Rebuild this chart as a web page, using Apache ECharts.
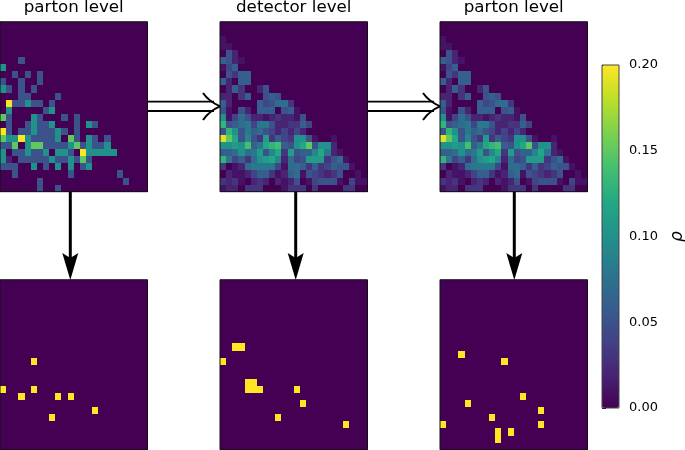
<!DOCTYPE html>
<html><head><meta charset="utf-8">
<style>html,body{margin:0;padding:0;background:#fff}#c{width:685px;height:450px}</style>
<script src="https://cdn.jsdelivr.net/npm/echarts@6/dist/echarts.min.js"></script>
</head><body><div id="c"></div>
<script>
// Cells are [column, row from top, rho]
const T=0.05,B=0.1,G=0.15,Y=0.2;
const partonTop=[
[3,5,T],[0,6,B],[2,7,T],[4,7,T],[6,7,T],[0,8,T],[3,8,T],[6,8,T],[0,9,B],[1,9,T],[3,9,T],[5,9,T],
[3,10,T],[4,10,T],[9,10,T],[1,11,Y],[2,11,T],[3,11,T],[4,11,B],[5,11,T],[6,11,T],[8,11,T],
[1,12,B],[7,12,T],[8,12,B],[0,13,G],[1,13,T],[5,13,B],[6,13,T],[10,13,T],[12,13,T],
[1,14,T],[4,14,T],[5,14,B],[6,14,T],[7,14,T],[8,14,B],[12,14,T],[14,14,B],[15,14,T],
[0,15,Y],[1,15,T],[3,15,T],[4,15,T],[5,15,B],[6,15,T],[7,15,T],[8,15,T],[9,15,B],[10,15,T],[12,15,T],
[0,16,G],[1,16,B],[2,16,B],[3,16,Y],[4,16,B],[5,16,T],[6,16,T],[7,16,T],[8,16,T],[9,16,B],[11,16,G],[12,16,T],[14,16,B],[15,16,T],[17,16,T],
[0,17,T],[1,17,T],[2,17,G],[4,17,B],[5,17,G],[6,17,G],[7,17,T],[8,17,T],[9,17,T],[10,17,T],[11,17,B],[12,17,G],[13,17,T],[14,17,B],[15,17,T],[16,17,T],[17,17,B],
[0,18,B],[2,18,T],[3,18,T],[4,18,B],[5,18,T],[6,18,T],[7,18,B],[9,18,B],[10,18,B],[11,18,T],[13,18,Y],[14,18,B],[15,18,B],[16,18,B],[17,18,B],[18,18,B],
[0,19,B],[1,19,0.02],[3,19,T],[4,19,T],[5,19,T],[6,19,T],[7,19,T],[8,19,B],[9,19,T],[10,19,T],[11,19,B],[12,19,T],[13,19,G],[14,19,T],
[0,20,T],[1,20,T],[2,20,T],[5,20,B],[7,20,T],[9,20,B],[11,20,B],[13,20,T],[14,20,B],
[2,21,T],[11,21,T],[19,21,T],[6,22,T],[20,22,T],[6,23,T],[9,23,T]];
const detectorTopPct=[
[0,0,0,0,0,0,0,0,0,0,0,0,0,0,0,0,0,0,0,0,0,0,0,0],
[0,0,0,0,0,0,0,0,0,0,0,0,0,0,0,0,0,0,0,0,0,0,0,0],
[1,0,0,0,0,0,0,0,0,0,0,0,0,0,0,0,0,0,0,0,0,0,0,0],
[1,1,0,0,0,0,0,0,0,0,0,0,0,0,0,0,0,0,0,0,0,0,0,0],
[0,5,2,0,0,0,0,0,0,0,0,0,0,0,0,0,0,0,0,0,0,0,0,0],
[6,5,2,1,0,0,0,0,0,0,0,0,0,0,0,0,0,0,0,0,0,0,0,0],
[1,4,6,0,0,0,0,0,0,0,0,0,0,0,0,0,0,0,0,0,0,0,0,0],
[0,5,3,6,6,0,0,0,0,0,0,0,0,0,0,0,0,0,0,0,0,0,0,0],
[6,2,0,6,6,0,0,0,0,0,0,0,0,0,0,0,0,0,0,0,0,0,0,0],
[0,2,6,3,0,0,2,5,0,0,0,0,0,0,0,0,0,0,0,0,0,0,0,0],
[2,2,0,3,6,0,0,5,6,5,0,0,0,0,0,0,0,0,0,0,0,0,0,0],
[6,2,0,0,0,0,6,4,5,7,7,3,0,0,0,0,0,0,0,0,0,0,0,0],
[5,1,0,5,2,0,6,6,6,0,5,6,1,0,0,0,0,0,0,0,0,0,0,0],
[10,1,4,7,5,2,2,1,2,3,2,2,1,5,0,0,0,0,0,0,0,0,0,0],
[13,5,6,7,8,4,8,8,5,2,2,3,3,6,4,0,0,0,0,0,0,0,0,0],
[5,13,10,5,8,6,7,5,4,2,4,2,4,2,0,0,0,0,0,0,0,0,0,0],
[19,15,12,5,9,5,3,11,3,6,4,3,10,10,5,1,0,0,1,0,0,0,0,0],
[10,10,11,10,14,6,8,12,13,14,6,5,10,12,15,5,10,10,2,0,0,0,0,0],
[6,6,7,10,7,8,11,5,9,12,3,11,5,6,6,9,12,8,2,1,0,0,0,0],
[13,8,4,6,3,7,10,11,12,9,2,7,4,5,11,11,11,3,5,7,1,0,0,0],
[3,0,1,2,7,8,8,8,8,4,1,7,7,6,3,6,3,4,6,5,5,1,0,0],
[0,2,1,1,2,4,6,6,3,1,2,6,7,1,5,4,3,2,3,5,0,0,1,0],
[3,2,3,1,0,2,3,2,0,2,1,2,5,0,1,4,5,5,5,1,0,4,1,1],
[1,2,2,0,3,3,3,0,0,0,1,3,3,3,0,3,0,0,0,0,3,3,0,0]];
const unfoldedTopPct=[
[0,0,0,0,0,0,0,0,0,0,0,0,0,0,0,0,0,0,0,0,0,0,0,0],
[0,0,0,0,0,0,0,0,0,0,0,0,0,0,0,0,0,0,0,0,0,0,0,0],
[1,0,0,0,0,0,0,0,0,0,0,0,0,0,0,0,0,0,0,0,0,0,0,0],
[1,1,0,0,0,0,0,0,0,0,0,0,0,0,0,0,0,0,0,0,0,0,0,0],
[0,5,2,0,0,0,0,0,0,0,0,0,0,0,0,0,0,0,0,0,0,0,0,0],
[6,5,2,1,0,0,0,0,0,0,0,0,0,0,0,0,0,0,0,0,0,0,0,0],
[1,4,6,0,0,0,0,0,0,0,0,0,0,0,0,0,0,0,0,0,0,0,0,0],
[0,5,3,6,6,0,0,0,0,0,0,0,0,0,0,0,0,0,0,0,0,0,0,0],
[6,2,0,6,6,0,0,0,0,0,0,0,0,0,0,0,0,0,0,0,0,0,0,0],
[0,2,6,3,0,0,2,5,0,0,0,0,0,0,0,0,0,0,0,0,0,0,0,0],
[2,2,0,3,6,0,0,5,6,5,0,0,0,0,0,0,0,0,0,0,0,0,0,0],
[6,2,0,0,0,0,6,4,5,7,7,3,0,0,0,0,0,0,0,0,0,0,0,0],
[5,1,0,5,2,0,6,6,6,0,5,6,1,0,0,0,0,0,0,0,0,0,0,0],
[10,1,4,7,5,2,2,1,2,3,2,2,1,5,0,0,0,0,0,0,0,0,0,0],
[13,5,6,7,8,4,8,8,5,2,2,3,3,6,4,0,0,0,0,0,0,0,0,0],
[5,13,10,5,8,6,7,5,4,2,4,2,4,2,0,0,0,0,0,0,0,0,0,0],
[19,15,12,5,9,5,3,11,3,6,4,3,10,10,5,1,0,0,1,0,0,0,0,0],
[10,10,11,10,14,6,8,12,13,14,6,5,10,12,15,5,10,10,2,0,0,0,0,0],
[6,6,7,10,7,8,11,5,9,12,3,11,5,6,6,9,12,8,2,1,0,0,0,0],
[13,8,4,6,3,7,10,11,12,9,2,7,4,5,11,11,11,3,5,7,1,0,0,0],
[3,0,1,2,7,8,8,8,8,4,1,7,7,6,3,6,3,4,6,5,5,1,0,0],
[0,2,1,1,2,4,6,6,3,1,2,6,7,1,5,4,3,2,3,5,0,0,1,0],
[3,2,3,1,0,2,3,2,0,2,1,2,5,0,1,4,5,5,5,1,0,4,1,1],
[1,2,2,0,3,3,3,0,0,0,1,3,3,3,0,3,0,0,0,0,3,3,0,0]];
const partonBottom=[[5,11],[0,15],[5,15],[3,16],[9,16],[11,16],[15,18],[8,19]];
const detectorBottom=[[2,9],[3,9],[0,11],[4,14],[5,14],[4,15],[5,15],[6,15],[12,15],[13,17],[9,19],[20,20]];
const unfoldedBottom=[[3,10],[10,11],[13,16],[4,17],[16,18],[8,19],[0,20],[16,20],[9,21],[11,21],[9,22]];
const titles=['parton level','detector level','parton level'];
const ticks=[0,0.05,0.1,0.15,0.2];
const viridis=['#440154','#482475','#414487','#355f8d','#2a788e','#21918c','#22a884','#44bf70','#7ad151','#bddf26','#fde725'];

const N=24, cols=[...Array(N).keys()];
const fromTriples=t=>{const m=new Map(t.map(c=>[c[0]+'_'+c[1],c[2]]));const o=[];
  for(let r=0;r<N;r++)for(let c=0;c<N;c++)o.push([c,r,m.get(c+'_'+r)||0]);return o;};
const fromMatrix=M=>M.flatMap((row,r)=>row.map((v,c)=>[c,r,v/100]));
const fromPairs=p=>fromTriples(p.map(c=>[c[0],c[1],Y]));
const panels=[fromTriples(partonTop),fromMatrix(detectorTopPct),fromMatrix(unfoldedTopPct),
  fromPairs(partonBottom),fromPairs(detectorBottom),fromPairs(unfoldedBottom)];
const L=[0,220,440], W=147.5, H=170, TOPS=[21.7,279.7];
const grids=[],xs=[],ys=[],series=[],g=[];
const frame=(x,y,w,h,c)=>g.push({type:'rect',z:40,shape:{x,y,width:w,height:h},style:{fill:null,stroke:c,lineWidth:1}});
const cell=(p,api)=>{
  const c=api.coord([api.value(0),api.value(1)]), s=api.size([1,1]);
  const x0=Math.round(c[0]-s[0]/2),x1=Math.round(c[0]+s[0]/2),y0=Math.round(c[1]-s[1]/2),y1=Math.round(c[1]+s[1]/2);
  return {type:'rect',shape:{x:x0,y:y0,width:x1-x0,height:y1-y0},style:{fill:api.visual('color')}};
};
panels.forEach((d,i)=>{
  const left=L[i%3], top=TOPS[i<3?0:1];
  grids.push({left,top,width:W,height:H,outerBoundsMode:'none'});
  xs.push({type:'category',data:cols,gridIndex:i,show:false});
  ys.push({type:'category',data:cols,gridIndex:i,show:false,inverse:true});
  series.push({type:'custom',renderItem:cell,xAxisIndex:i,yAxisIndex:i,data:d,encode:{x:0,y:1},silent:true});
  frame(left,top,W,H,'#111');
});
grids.push({left:602,top:65,width:17,height:343,outerBoundsMode:'none'});
xs.push({type:'value',gridIndex:6,show:false,min:0,max:1});
ys.push({type:'value',gridIndex:6,min:0,max:0.2,interval:0.05,position:'right',
  axisLine:{show:false},axisTick:{show:true,length:4,lineStyle:{color:'#000',width:1}},
  splitLine:{show:false},
  axisLabel:{margin:10,color:'#000',fontSize:13,fontFamily:'DejaVu Sans',formatter:v=>v.toFixed(2)},
  name:'ρ',nameLocation:'middle',nameRotate:90,nameGap:50,
  nameTextStyle:{color:'#000',fontSize:17,fontStyle:'italic',fontFamily:'DejaVu Sans'}});
frame(602,65,17,343,'#444');

const ink={stroke:'#000',lineWidth:2,fill:null};
[[148,220],[368,440]].forEach(([a,b])=>{
  [101.7,111].forEach(y=>g.push({type:'line',z:50,shape:{x1:a,y1:y,x2:b-6,y2:y},style:{stroke:'#000',lineWidth:1.8}}));
  g.push({type:'bezierCurve',z:50,shape:{x1:b-17,y1:93,x2:b,y2:106.3,cpx1:b-11,cpy1:101.5},style:ink});
  g.push({type:'bezierCurve',z:50,shape:{x1:b-17,y1:120,x2:b,y2:106.3,cpx1:b-11,cpy1:111},style:ink});
});
[70.3,295.7,514.3].forEach(x=>{
  g.push({type:'line',z:50,shape:{x1:x,y1:192,x2:x,y2:262},style:{stroke:'#000',lineWidth:3}});
  g.push({type:'polygon',z:50,shape:{points:[[x-8,253],[x,258],[x+8,253],[x,280]]},style:{fill:'#000'}});
});

const chart=echarts.init(document.getElementById('c'),null,{renderer:'canvas'});
chart.setOption({
  animation:false,backgroundColor:'#fff',
  title:titles.map((t,i)=>({text:t,left:L[i]+W/2,top:-1,textAlign:'center',padding:0,
    textStyle:{fontSize:16.7,fontWeight:'normal',color:'#000',fontFamily:'DejaVu Sans'}})),
  tooltip:{show:false},
  grid:grids,xAxis:xs,yAxis:ys,series,
  visualMap:{type:'continuous',min:0,max:0.2,dimension:2,seriesIndex:[0,1,2,3,4,5],calculable:false,hoverLink:false,realtime:false,
    left:602,top:65,padding:0,itemWidth:17,itemHeight:343,text:null,inRange:{color:viridis}},
  graphic:g
});
</script></body></html>
